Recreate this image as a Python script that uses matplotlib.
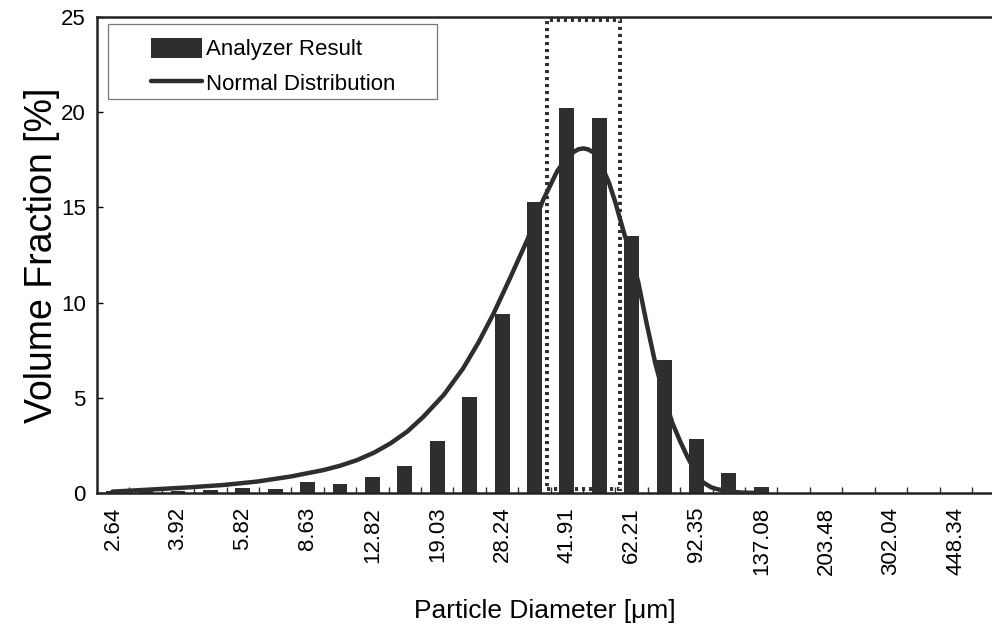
import numpy as np
import matplotlib
matplotlib.use("Agg")
import matplotlib.pyplot as plt
from matplotlib.patches import Rectangle

plt.rcParams['font.family'] = ['Liberation Sans', 'DejaVu Sans']

# size classes (only every other one is labelled)
tick_labels = ["2.64", "3.92", "5.82", "8.63", "12.82", "19.03", "28.24",
               "41.91", "62.21", "92.35", "137.08", "203.48", "302.04", "448.34"]

# analyzer result, one value per size class [%]
volume = [0.12, 0.1, 0.1, 0.15, 0.25, 0.2, 0.58, 0.47, 0.86, 1.43, 2.75,
          5.05, 9.4, 15.3, 20.2, 19.7, 13.5, 7.0, 2.85, 1.05, 0.32,
          0, 0, 0, 0, 0, 0, 0]

# normal distribution curve (x in class index units)
curve_x = [-0.03, 1.36, 2.38, 3.40, 4.44, 5.46, 6.48, 7.0, 7.53, 8.05, 8.55,
           9.07, 9.57, 10.2, 10.80, 11.27, 11.73, 12.25, 12.78, 13.27,
           13.70, 13.95, 14.2, 14.35, 14.51, 14.65, 14.81, 14.95,
           15.12, 15.3, 15.49, 15.74, 16.0, 16.20, 16.45, 16.73, 17.0,
           17.25, 17.5, 17.72, 18.0, 18.21, 18.45, 18.64, 19.0, 19.4, 19.97]
curve_y = [0.07, 0.2, 0.3, 0.42, 0.6, 0.86, 1.2, 1.43, 1.73, 2.12, 2.6,
           3.22, 4.0, 5.15, 6.55, 7.9, 9.4, 11.3, 13.3, 15.4,
           16.9, 17.5, 17.9, 18.05, 18.1, 18.05, 17.9, 17.6,
           17.0, 16.3, 15.3, 13.8, 12.3, 11.1, 9.0, 6.8, 5.1,
           3.7, 2.7, 1.9, 1.0, 0.55, 0.3, 0.2, 0.08, 0.02, 0.0]

dark = '#2e2e2e'

fig = plt.figure(figsize=(9.92, 6.33), dpi=100)
ax = fig.add_axes([0.0978, 0.2212, 0.9022, 0.7519])

x = np.arange(len(volume))
bars = ax.bar(x, volume, width=0.46, color=dark, label='Analyzer Result', zorder=2)
line, = ax.plot(curve_x, curve_y, color=dark, lw=3.2, label='Normal Distribution',
                zorder=3, solid_capstyle='round', solid_joinstyle='round')

# dotted box around the peak classes
ax.add_patch(Rectangle((13.40, 0.2), 2.25, 24.63, fill=False, ec=dark,
                       lw=2.8, ls=(0, (0.8, 1.0)), zorder=4))

ax.set_xlim(-0.5, 27.12)
ax.set_ylim(0, 25)
ax.set_yticks(range(0, 26, 5))
ax.set_xticks(x[::2])
ax.set_xticklabels(tick_labels, rotation=90)
ax.set_xticks(np.arange(0.5, 27.5, 1), minor=True)
ax.tick_params(axis='x', which='major', length=0, pad=10, labelsize=16)
ax.tick_params(axis='x', which='minor', direction='in', length=4, width=1, color=dark)
ax.tick_params(axis='y', direction='in', length=4, width=1, pad=8, labelsize=16)

for s in ['left', 'bottom', 'top']:
    ax.spines[s].set_linewidth(1.8)
    ax.spines[s].set_color('#222222')
ax.spines['right'].set_visible(False)

ax.set_xlabel('Particle Diameter [μm]', fontsize=19, labelpad=17)
ax.set_ylabel('Volume Fraction [%]', fontsize=27, labelpad=1)

# legend with its own thin frame
ax.add_patch(Rectangle((0.0123, 0.828), 0.368, 0.157, transform=ax.transAxes,
                       fill=False, ec='#777777', lw=0.9, zorder=5))
ax.legend(handles=[bars, line], loc='upper left', bbox_to_anchor=(0.05, 0.975),
          frameon=False, fontsize=16, handlelength=2.3, handleheight=1.0,
          handletextpad=0.2, labelspacing=0.55, borderaxespad=0)

fig.savefig('out.png', dpi=100)
